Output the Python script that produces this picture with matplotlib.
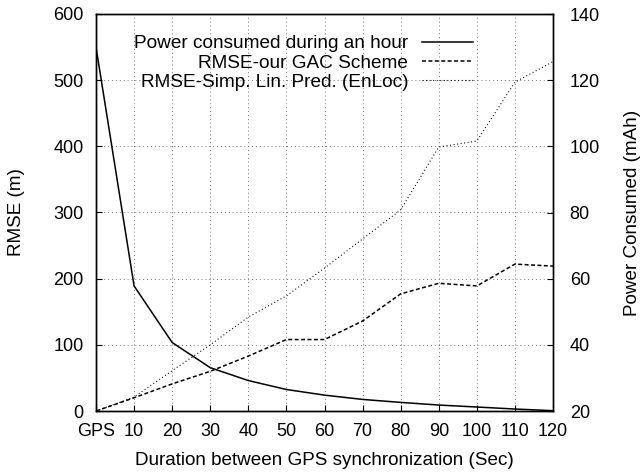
import matplotlib
matplotlib.use("Agg")
import matplotlib.pyplot as plt

plt.rcParams['font.family'] = ['Liberation Sans', 'DejaVu Sans']

x = [0, 10, 20, 30, 40, 50, 60, 70, 80, 90, 100, 110, 120]
xlabels = ['GPS', '10', '20', '30', '40', '50', '60', '70', '80', '90', '100', '110', '120']
power = [130, 57.8, 40.7, 33.1, 29.2, 26.5, 24.8, 23.5, 22.6, 21.8, 21.2, 20.6, 20.1]
rmse_gac = [0, 20, 41, 60, 83, 108, 108, 136, 177, 193, 189, 222, 219]
rmse_enloc = [0, 21, 61, 100, 142, 174, 216, 260, 304, 399, 408, 497, 528]

fs = 13
fig = plt.figure(figsize=(6.4, 4.72), dpi=100)
ax = fig.add_axes([96/640, 1-411/472, (553-96)/640, (411-14)/472])
ax2 = ax.twinx()

l2, = ax.plot(x, rmse_gac, color='black', lw=1.1, ls=(0, (2.6, 1.6)))
l3, = ax.plot(x, rmse_enloc, color='black', lw=0.8, ls=(0, (0.9, 2.3)))
l1, = ax2.plot(x, power, color='black', lw=1.1, ls='-')

ax.set_xlim(0, 120)
ax.set_ylim(0, 600)
ax2.set_ylim(20, 140)
ax.set_xticks(x)
ax.set_xticklabels(xlabels)
ax.set_yticks(range(0, 601, 100))
ax2.set_yticks(range(20, 141, 20))

ax.grid(True, color='0.45', lw=0.7, ls=(0, (1, 3)))
ax.tick_params(axis='both', direction='in', length=4.5, width=0.8, labelsize=fs,
               top=False, right=False)
ax.tick_params(axis='y', pad=9)
ax.tick_params(axis='x', pad=9)
ax2.tick_params(axis='y', direction='in', length=4.5, width=0.8, labelsize=fs, pad=12)

for a in (ax, ax2):
    for s in a.spines.values():
        s.set_linewidth(1.0)

ax.set_xlabel('Duration between GPS synchronization (Sec)', fontsize=13.6, labelpad=8)
ax.set_ylabel('RMSE (m)', fontsize=13.6, labelpad=20)
ax2.set_ylabel('Power Consumed (mAh)', fontsize=13.6, labelpad=17)

leg = ax2.legend([l1, l2, l3],
                 ['Power consumed during an hour', 'RMSE-our GAC Scheme',
                  'RMSE-Simp. Lin. Pred. (EnLoc)'],
                 loc='upper right', bbox_to_anchor=(473/640, 1-35/472),
                 bbox_transform=fig.transFigure, frameon=False, markerfirst=False,
                 fontsize=13.7, handlelength=2.7, handletextpad=0.7, labelspacing=0.1,
                 borderpad=0, borderaxespad=0)

fig.savefig('out.png', dpi=100)
